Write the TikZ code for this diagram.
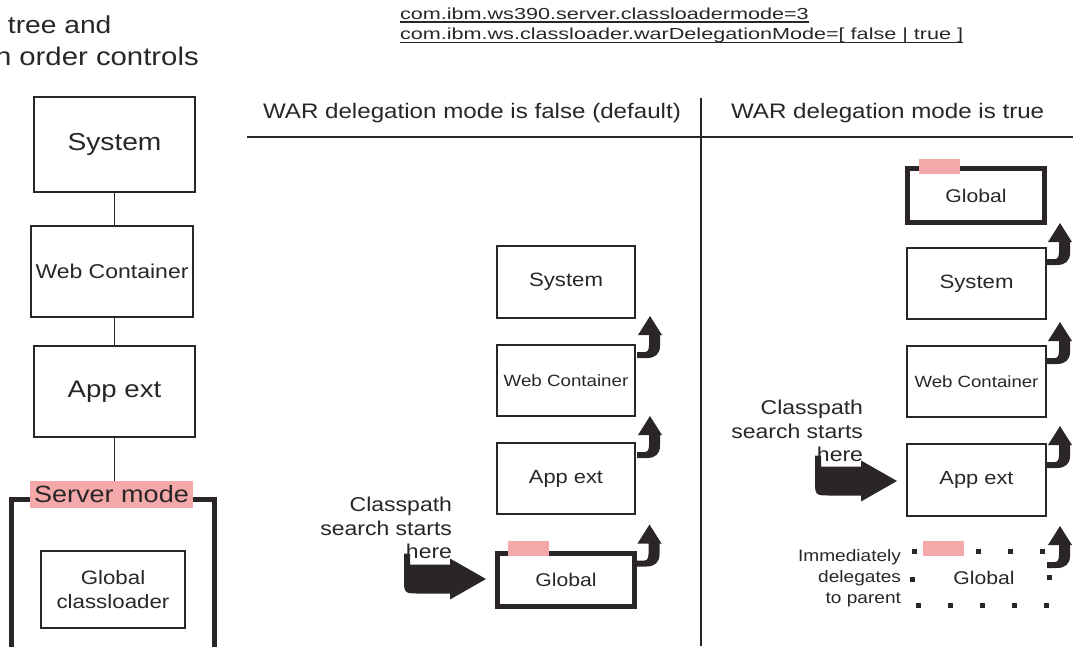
\documentclass[tikz,border=0pt]{standalone}
\usepackage{fontspec}
\setmainfont{Liberation Sans}[FakeStretch=1.15]
\newfontfamily\codefont{Liberation Sans}[FakeStretch=1.35]
\usetikzlibrary{calc}

\definecolor{ink}{HTML}{2A2627}
\definecolor{tabpink}{HTML}{F4A8A9}
\newcommand\fsz[2]{\fontsize{#1}{#2}\selectfont}

\tikzset{
  box/.style={draw=ink, line width=1.3pt, inner sep=0pt, outer sep=0pt, text=ink, align=center},
  heavy/.style={draw=ink, line width=5pt, inner sep=0pt, outer sep=0pt, text=ink, align=center},
  tabbox/.style={fill=tabpink, inner sep=0pt, outer sep=0pt, text=ink},
  txt/.style={text=ink, inner sep=0pt, outer sep=0pt},
  rule/.style={draw=ink, line width=1.3pt},
  dot/.style={fill=ink},
  % small hooked arrow: origin at its lower left end, pointing up
  hook/.pic={
    \fill[ink] (0,0) -- (0,-6) -- (8,-6) .. controls (11,-6) and (12,-9) .. (12,-13)
      -- (12,-23) -- (1,-23) -- (13,-42) -- (25,-23) -- (23,-23) -- (23,-12)
      .. controls (23,-4) and (18,0) .. (10,0) -- cycle;
  },
  % large bent arrow: origin at its tip, pointing right
  bigarrow/.pic={
    \fill[ink] (-82,-25.5) -- (-76,-25.5) -- (-76,-14.5) -- (-36,-14.5) -- (-36,-20.5)
      -- (0,0) -- (-36,20.5) -- (-36,14.5) -- (-66,14.5)
      .. controls (-82,14.5) .. (-82,-1) -- cycle;
  }
}

\begin{document}
\begin{tikzpicture}[x=1pt,y=-1pt]
\useasboundingbox (0,0) rectangle (1073,646);

% ---- title fragments ----
\node[txt, anchor=base west, font=\fsz{24.5}{29}] (t1) at (8,33) {tree and};
\node[txt, anchor=base west, font=\fsz{25.5}{30}] (t2) at (-5,65) {n order controls};

% ---- property settings ----
\node[txt, anchor=base west, font=\codefont\fsz{16}{20}] (code1) at (400,19) {com.ibm.ws390.server.classloadermode=3};
\node[txt, anchor=base west, font=\codefont\fsz{16}{20}] (code2) at (400,39.5) {com.ibm.ws.classloader.warDelegationMode=[ false | true ]};
\draw[ink, line width=1.2pt] ($(code1.base west)+(0,3)$) -- ($(code1.base east)+(0,3)$);
\draw[ink, line width=1.2pt] ($(code2.base west)+(0,3)$) -- ($(code2.base east)+(0,3)$);

% ---- column headings and dividers ----
\node[txt, anchor=base west, font=\fsz{21}{25}] (hfalse) at (263,118) {WAR delegation mode is false (default)};
\node[txt, anchor=base west, font=\fsz{21}{25}] (htrue) at (731,118) {WAR delegation mode is true};
\coordinate (hl) at (247,137);
\coordinate (hr) at (1073,137);
\coordinate (vt) at (701,98);
\coordinate (vb) at (701,646);
\draw[rule] (hl) -- (hr);
\draw[rule] (vt) -- (vb);

% ---- left: class loader tree ----
\node[box, minimum width=161pt, minimum height=95pt, font=\fsz{24.5}{29}] (lsys) at (114.5,144.5) {System};
\node[box, minimum width=162pt, minimum height=91pt, font=\fsz{20}{24}] (lweb) at (112,271.5) {Web Container};
\node[box, minimum width=161pt, minimum height=91pt, font=\fsz{24}{29}] (lapp) at (114.5,391.5) {App ext};
\node[heavy, minimum width=203pt, minimum height=161pt] (srv) at (113,580) {};
\node[box, minimum width=144pt, minimum height=77pt, font=\fsz{19.4}{24}] (lglob) at (113,589.5) {Global\\classloader};
\node[tabbox, minimum width=163pt, minimum height=27pt, font=\fsz{23.5}{28}] (srvlab) at (111.5,494.5) {};
\draw[rule] (lsys.south) -- (lsys.south |- lweb.north);
\draw[rule] (lsys.south |- lweb.south) -- (lsys.south |- lapp.north);
\draw[rule] (lsys.south |- lapp.south) -- (lsys.south |- srvlab.north);
\node[tabbox, minimum width=163pt, minimum height=27pt, font=\fsz{23.5}{28}] at (111.5,494.5) {Server mode};

% ---- middle: delegation mode false ----
\node[box, minimum width=138pt, minimum height=72pt, font=\fsz{19.3}{23}] (msys) at (566,282) {System};
\node[box, minimum width=138pt, minimum height=71pt, font=\fsz{16.3}{20}] (mweb) at (566,380.5) {Web Container};
\node[box, minimum width=138pt, minimum height=71pt, font=\fsz{19}{23}] (mapp) at (566,478.5) {App ext};
\node[heavy, minimum width=137pt, minimum height=53pt, font=\fsz{18.4}{22}] (mglob) at (566,580) {\raisebox{-2pt}{Global}};
\node[tabbox, minimum width=41pt, minimum height=15pt] (mtab) at (528.5,548.5) {};
\pic at ($(mweb.north east)+(2,13)$) {hook};
\pic at ($(mapp.north east)+(2,15)$) {hook};
\pic at ($(mglob.north east)+(2,13)$) {hook};
\pic at ($(mglob.west)+(-11.5,-1)$) {bigarrow};
\node[txt, anchor=north east, align=right, font=\fsz{20}{23.5}] (mstart) at (452,497) {Classpath\\search starts\\here};

% ---- right: delegation mode true ----
\node[heavy, minimum width=137pt, minimum height=54pt, font=\fsz{18.4}{22}] (rglob) at (976,195.5) {\raisebox{-2pt}{Global}};
\node[tabbox, minimum width=41pt, minimum height=15pt] (rtab) at (939.5,166.5) {};
\node[box, minimum width=139pt, minimum height=71pt, font=\fsz{19.3}{23}] (rsys) at (976.5,283.5) {System};
\node[box, minimum width=139pt, minimum height=71pt, font=\fsz{16.2}{20}] (rweb) at (976.5,381.5) {Web Container};
\node[box, minimum width=139pt, minimum height=72pt, font=\fsz{19}{23}] (rapp) at (976.5,480) {App ext};
\node[txt, minimum width=133pt, minimum height=54pt, font=\fsz{18.4}{22}] (rdel) at (980.5,578) {\hspace*{7pt}Global};
% dotted outline of the bypassed loader
\foreach \px/\py in {914/551, 946/551, 978/551, 1010/551, 1042/551,
                     912/579, 1049/577,
                     918/605, 950/605, 982/605, 1014/605, 1046/605}
  \fill[dot] (\px-2.5,\py-2.5) rectangle (\px+2.5,\py+2.5);
\node[tabbox, minimum width=41pt, minimum height=15pt] (rdtab) at (943.5,548.5) {};
\pic at ($(rsys.north east)+(1,17)$) {hook};
\pic at ($(rweb.north east)+(1,18)$) {hook};
\pic at ($(rapp.north east)+(1,24)$) {hook};
\pic at ($(rdel.north east)+(0,17)$) {hook};
\pic at ($(rapp.west)+(-10,1)$) {bigarrow};
\node[txt, anchor=north east, align=right, font=\fsz{20}{23.5}] (rstart) at (863,400) {Classpath\\search starts\\here};
\node[txt, anchor=north east, align=right, font=\fsz{16.6}{21}] (rnote) at (901,549) {Immediately\\delegates\\to parent};
\end{tikzpicture}
\end{document}
